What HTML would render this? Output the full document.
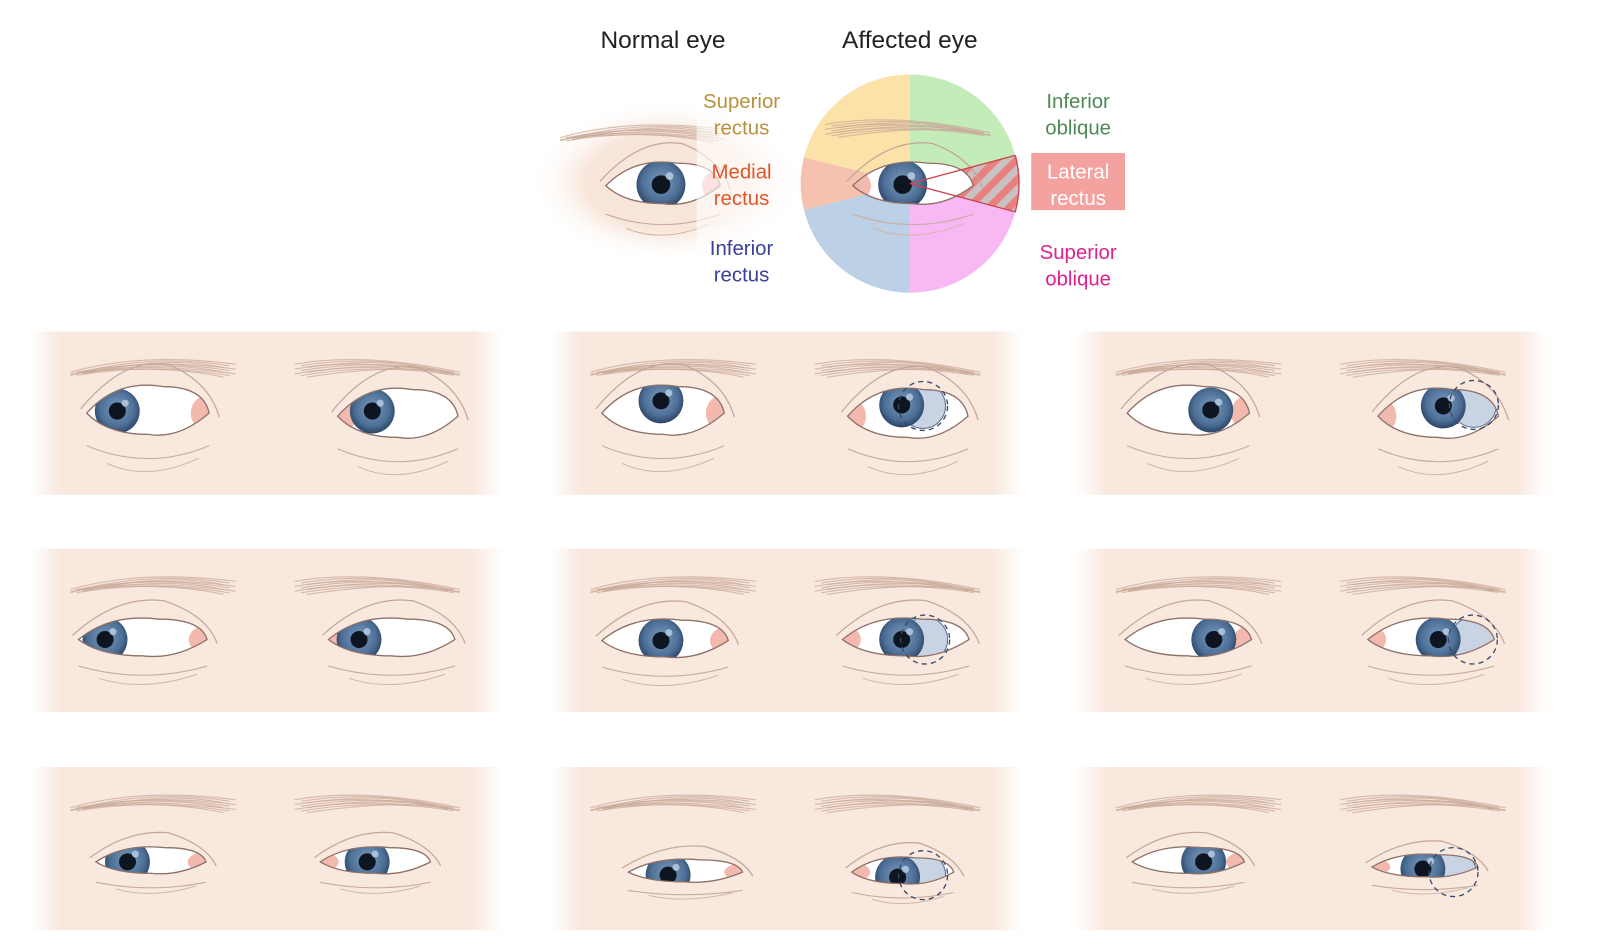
<!DOCTYPE html>
<html><head><meta charset="utf-8">
<style>
body{margin:0;background:#fff;width:1600px;height:950px;overflow:hidden;font-family:"Liberation Sans",sans-serif}
svg{display:block}
</style></head><body>
<svg id="s" width="1600" height="950" xmlns="http://www.w3.org/2000/svg">
<defs>
<radialGradient id="ir" cx="50%" cy="45%" r="55%"><stop offset="0" stop-color="#7a9cc0"/><stop offset="0.7" stop-color="#4d6f96"/><stop offset="1" stop-color="#2b4466"/></radialGradient>
<linearGradient id="fadeL" x1="0" x2="1"><stop offset="0" stop-color="#fff" stop-opacity="1"/><stop offset="1" stop-color="#fff" stop-opacity="0"/></linearGradient>
<linearGradient id="fadeR" x1="1" x2="0"><stop offset="0" stop-color="#fff" stop-opacity="1"/><stop offset="1" stop-color="#fff" stop-opacity="0"/></linearGradient>
<pattern id="hatch" width="14" height="14" patternUnits="userSpaceOnUse" patternTransform="rotate(45)"><rect width="14" height="14" fill="#c9c2c2"/><rect width="7" height="14" fill="#e98080"/></pattern>
<radialGradient id="topfade" cx="50%" cy="50%" r="50%"><stop offset="0.6" stop-color="#f8e6da"/><stop offset="1" stop-color="#fff" stop-opacity="0"/></radialGradient>
</defs>
<g transform="scale(1.02)">
<g id="g"></g>
<text x="650" y="47" font-size="24" fill="#222" text-anchor="middle">Normal eye</text>
<text x="892" y="47" font-size="24" fill="#222" text-anchor="middle">Affected eye</text>
</g>
</svg>
<script>
const NS="http://www.w3.org/2000/svg";const g=document.getElementById('g');let uid=0;
function el(t,a,p){const e=document.createElementNS(NS,t);for(const k in a)e.setAttribute(k,a[k]);(p||g).appendChild(e);return e;}
function brow(x,y,w,flip){const d=flip?-1:1;for(let i=0;i<9;i++){const o=(i%3)*6-6;el('path',{d:`M${x-d*w/2+d*o} ${y+10+(i%4)} Q${x+o*2} ${y-10+i*1.5} ${x+d*w/2-d*o} ${y+2+i*1.6}`,stroke:'#c9a99a',fill:'none','stroke-width':1.1,opacity:.75});}
}
function eye(cx,cy,w,h,ix,iy,pinkRight,dash,ir){ir=ir||22;const id='c'+(uid++);
 const top=cy-h,bot=cy+h*0.8;
 const d=`M${cx-w/2} ${cy} Q${cx-w/4} ${top-h*0.3} ${cx+w/8} ${top} Q${cx+w/2.2} ${top} ${cx+w/2} ${cy} Q${cx+w/4} ${bot+h*0.2} ${cx} ${bot} Q${cx-w/3} ${bot} ${cx-w/2} ${cy}Z`;
 const cp=el('clipPath',{id:id});el('path',{d:d},cp);
 el('path',{d:`M${cx-w/2-6} ${cy-4} Q${cx-w/5} ${top-h*0.9-6} ${cx+w/6} ${top-h*0.6-6} Q${cx+w/2} ${top-h*0.2} ${cx+w/2+10} ${cy+4}`,stroke:'#c4a59a',fill:'none','stroke-width':1.2});
 el('path',{d:`M${cx-w/2} ${cy+h+6} Q${cx} ${cy+h*2.2} ${cx+w/2} ${cy+h+6}`,stroke:'#c9ab9f',fill:'none','stroke-width':1.1});
 el('path',{d:`M${cx-w/2+20} ${cy+h*1.9} Q${cx} ${cy+h*2.6} ${cx+w/2-10} ${cy+h*1.7}`,stroke:'#d2b5aa',fill:'none','stroke-width':1});
 el('path',{d:d,fill:'#fff',stroke:'#b89a90','stroke-width':1.2});
 const gg=el('g',{'clip-path':`url(#${id})`});
 const px=pinkRight?cx+w/2:cx-w/2;
 el('ellipse',{cx:px,cy:cy,rx:18,ry:h*0.7,fill:'#f3b9ae'},gg);
 if(dash){el('circle',{cx:dash[0],cy:dash[1],r:ir,fill:'#c8d3e4',stroke:'#5d6f90','stroke-width':1},gg);}
 el('circle',{cx:ix,cy:iy,r:ir,fill:'url(#ir)'},gg);
 el('circle',{cx:ix,cy:iy,r:ir*0.38,fill:'#0d1620'},gg);
 el('circle',{cx:ix+ir*0.35,cy:iy-ir*0.35,r:ir*0.16,fill:'#c9daf0',opacity:.7},gg);
 el('path',{d:d,fill:'none',stroke:'#8d7068','stroke-width':1.2});
 if(dash)el('circle',{cx:dash[0],cy:dash[1],r:ir+2,fill:'none',stroke:'#3a4868','stroke-width':1.3,'stroke-dasharray':'5 4'});
}
function panel(x,y,e){
 el('rect',{x:x,y:y,width:462,height:160,fill:'#f8e8de'});
 el('rect',{x:x,y:y,width:30,height:160,fill:'url(#fadeL)'});
 el('rect',{x:x+432,y:y,width:30,height:160,fill:'url(#fadeR)'});
 brow(x+120,y+30,150,false);brow(x+340,y+30,150,true);
 e.forEach(a=>eye(...a));
}
panel(30,325,[[145,405,120,26,115,403,true],[390,408,118,26,365,403,false]]);
panel(540,325,[[650,405,120,26,648,393,true],[890,408,118,26,884,397,false,[905,398]]]);
panel(1055,325,[[1165,405,120,26,1187,402,true],[1410,408,118,26,1415,398,false,[1445,397]]]);
panel(30,538,[[140,627,126,20,103,627,true],[384,627,124,20,352,627,false]]);
panel(540,538,[[652,628,124,20,648,628,true],[888,627,124,20,884,627,false,[907,627]]]);
panel(1055,538,[[1165,627,124,20,1190,627,true],[1403,627,124,20,1410,627,false,[1444,627]]]);
panel(30,752,[[148,845,108,14,125,845,true],[368,845,108,14,360,845,false]]);
panel(540,752,[[672,855,112,12,655,858,true],[885,855,100,14,880,860,false,[905,858]]]);
panel(1055,752,[[1165,845,110,14,1180,845,true],[1397,850,104,12,1395,852,false,[1425,855]]]);
el('ellipse',{cx:655,cy:178,rx:135,ry:80,fill:'url(#topfade)'});
brow(630,125,150,false);
eye(650,182,112,22,648,181,true,null,24);
const C=[892,180],R=107;
function sec(a1,a2,f){const r=Math.PI/180;const x1=C[0]+R*Math.cos(a1*r),y1=C[1]+R*Math.sin(a1*r),x2=C[0]+R*Math.cos(a2*r),y2=C[1]+R*Math.sin(a2*r);
 el('path',{d:`M${C[0]} ${C[1]} L${x1} ${y1} A${R} ${R} 0 0 1 ${x2} ${y2}Z`,fill:f});}
sec(-90,-15,'#c4ecb8');sec(15,90,'#f8b8f4');sec(90,166,'#bcd0e6');sec(166,194,'#f5c2b0');sec(194,270,'#fae2a8');
sec(-15,15,'url(#hatch)');
brow(890,120,150,true);
eye(895,182,118,22,885,181,false,null,24);
const rr=Math.PI/180;
el('path',{d:`M892 180 L${892+R*Math.cos(-15*rr)} ${180+R*Math.sin(-15*rr)} M892 180 L${892+R*Math.cos(15*rr)} ${180+R*Math.sin(15*rr)} A${R} ${R} 0 0 0 ${892+R*Math.cos(-15*rr)} ${180+R*Math.sin(-15*rr)}`,stroke:'#d0404a',fill:'none','stroke-width':1.3});
function lab(x,y,t1,t2,c,bg){if(bg)el('rect',{x:x-46,y:y-25,width:92,height:56,fill:bg});
 [t1,t2].forEach((t,i)=>{const e=el('text',{x:x,y:y+i*26,'font-size':20,fill:c,'text-anchor':'middle'});e.textContent=t;});}
el('rect',{x:683,y:85,width:90,height:190,fill:'#fff',opacity:.6});
lab(727,106,'Superior','rectus','#b8903f');
lab(727,175,'Medial','rectus','#e0562a');
lab(727,250,'Inferior','rectus','#3a3f9a');
lab(1057,106,'Inferior','oblique','#4e8a56');
lab(1057,175,'Lateral','rectus','#fff','#f4a2a0');
lab(1057,254,'Superior','oblique','#e0208f');
</script>
</body></html>
